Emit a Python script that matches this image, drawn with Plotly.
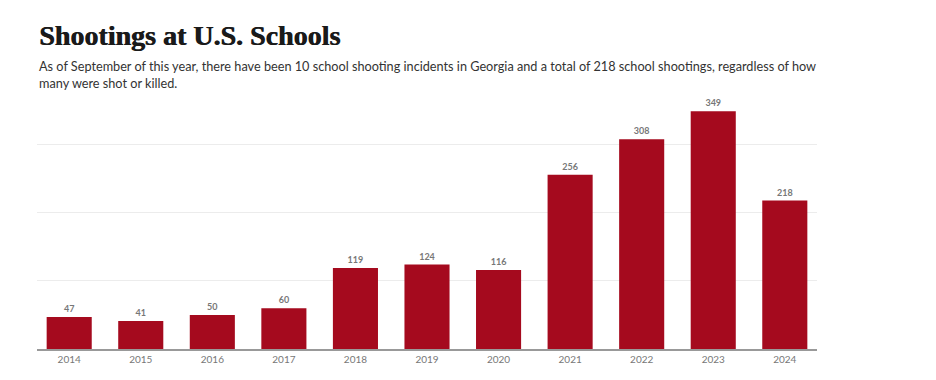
import plotly.graph_objects as go

years = ["2014", "2015", "2016", "2017", "2018", "2019", "2020", "2021", "2022", "2023", "2024"]
shootings = [47, 41, 50, 60, 119, 124, 116, 256, 308, 349, 218]

title_text = "Shootings at U.S. Schools"
subtitle_text = ("As of September of this year, there have been 10 school shooting incidents in Georgia "
                 "and a total of 218 school shootings, regardless of how<br>many were shot or killed.")

fig = go.Figure()
fig.add_trace(go.Bar(
    x=years, y=shootings,
    marker=dict(color="#a50a1e", line=dict(width=0)),
    text=[str(v) for v in shootings],
    textposition="outside",
    textfont=dict(family="Lato", size=9, color="#777777", weight="bold"),
    cliponaxis=False,
    hoverinfo="x+y",
))

fig.update_layout(
    width=936, height=380,
    margin=dict(l=37, r=119, t=97, b=31),
    paper_bgcolor="white", plot_bgcolor="white",
    bargap=0.37,
    showlegend=False,
    xaxis=dict(
        range=[-0.45, 10.45],
        showgrid=False, showline=True, linecolor="#999999", linewidth=1.5,
        ticks="", tickfont=dict(family="Lato", size=10, color="#777777"),
        fixedrange=True,
    ),
    yaxis=dict(
        range=[0, 370], showgrid=True, gridcolor="#ececec", gridwidth=1,
        tickvals=[100, 200, 300], showticklabels=False, zeroline=False,
        fixedrange=True,
    ),
    annotations=[
        dict(text=title_text, xref="paper", yref="paper", x=0, y=1, xanchor="left", yanchor="bottom",
             yshift=44, showarrow=False, align="left",
             font=dict(family="Liberation Serif", size=28, color="#1a1a1a", weight="bold",
                       shadow="0.7px 0 0 #1a1a1a")),
        dict(text=subtitle_text, xref="paper", yref="paper", x=0, y=1, xanchor="left", yanchor="bottom",
             yshift=4, showarrow=False, align="left",
             font=dict(family="Lato", size=12.7, color="#333333")),
    ],
)

fig.write_html("out.html", config={"displayModeBar": False},
               post_script="document.body.style.margin='0px';")
